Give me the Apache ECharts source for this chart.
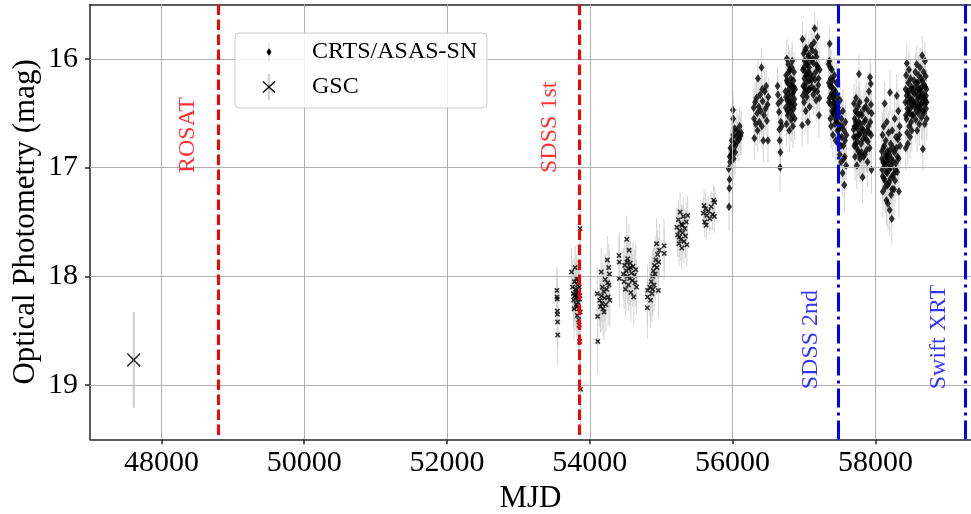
<!DOCTYPE html>
<html>
<head>
<meta charset="utf-8">
<script src="https://cdn.jsdelivr.net/npm/echarts@6/dist/echarts.min.js"></script>
<style>
html,body{margin:0;padding:0;background:#fff;}
#chart{width:971px;height:514px;}
</style>
</head>
<body>
<div id="chart"></div>
<script>
// ---------------- DATA ----------------
// [MJD, mag, err]
const crtsS1 = [[53540,18.13,0.22],[53541,18.19,0.24],[53543,18.21,0.20],[53545,18.32,0.26],[53547,18.35,0.22],[53549,18.42,0.25],[53551,18.54,0.28]];
const crtsS2 = [[53745,17.96,0.22],[53760,18.10,0.25],[53770,18.16,0.24],[53775,18.22,0.26],[53780,18.30,0.28],[53785,18.05,0.22],[53790,18.18,0.24],[53795,17.92,0.20],[53800,18.12,0.25],[53805,18.20,0.26],[53810,18.26,0.24],[53812,18.17,0.22],[53815,18.02,0.22],[53820,18.15,0.25],[53822,18.28,0.26],[53825,18.36,0.28],[53828,18.08,0.22],[53832,18.19,0.24],[53836,18.24,0.25],[53838,18.05,0.22],[53840,18.14,0.24],[53845,18.40,0.26],[53848,18.30,0.25],[53850,18.45,0.28],[53852,18.10,0.22],[53855,18.21,0.24],[53858,18.60,0.30],[53860,18.18,0.24],[53863,17.56,0.20],[53866,18.33,0.26],[53870,19.04,0.32]];
const crtsS3 = [[54105,18.16,0.24],[54110,18.37,0.26],[54112,18.60,0.30],[54140,18.22,0.25],[54150,18.28,0.24],[54160,17.96,0.22],[54165,18.18,0.24],[54170,18.25,0.26],[54175,18.10,0.22],[54185,18.30,0.25],[54195,18.14,0.24],[54200,18.33,0.26],[54205,18.20,0.22],[54215,18.03,0.24],[54225,18.26,0.25],[54235,18.12,0.22],[54245,17.85,0.22],[54250,18.06,0.24],[54258,18.19,0.26],[54265,17.92,0.22],[54270,18.08,0.24],[54275,17.98,0.22],[54280,18.22,0.25]];
const crtsS4 = [[54410,17.81,0.22],[54412,17.87,0.24],[54414,18.02,0.26],[54470,17.98,0.24],[54480,18.05,0.25],[54490,17.90,0.22],[54500,18.12,0.26],[54510,17.95,0.24],[54517,17.66,0.22],[54520,17.87,0.24],[54525,18.00,0.25],[54530,17.84,0.22],[54540,18.08,0.24],[54545,17.93,0.22],[54550,17.76,0.24],[54560,18.02,0.25],[54565,17.88,0.22],[54570,17.92,0.24],[54575,18.15,0.26],[54585,17.97,0.22],[54595,18.04,0.24],[54605,17.91,0.22],[54615,18.19,0.26],[54625,17.99,0.24],[54635,18.06,0.22],[54645,17.94,0.24],[54655,18.10,0.25]];
const crtsS5 = [[54805,18.29,0.28],[54808,18.19,0.26],[54810,18.13,0.24],[54840,18.10,0.26],[54850,18.22,0.25],[54860,18.05,0.24],[54870,18.16,0.26],[54880,18.00,0.24],[54882,18.12,0.25],[54890,17.95,0.22],[54900,18.08,0.24],[54905,17.90,0.22],[54915,17.98,0.24],[54925,17.85,0.22],[54935,17.70,0.24],[54940,17.92,0.25],[54950,17.80,0.22],[54960,18.13,0.26],[54965,17.87,0.22],[54975,17.76,0.24],[55040,17.72,0.25],[55042,17.79,0.24]];
const crtsS6 = [[55220,17.55,0.18],[55230,17.62,0.20],[55240,17.48,0.18],[55250,17.70,0.20],[55255,17.64,0.18],[55260,17.58,0.20],[55265,17.41,0.18],[55275,17.66,0.20],[55285,17.52,0.18],[55290,17.74,0.20],[55295,17.53,0.18],[55300,17.60,0.20],[55310,17.45,0.18],[55320,17.68,0.20],[55330,17.56,0.18],[55340,17.63,0.20],[55350,17.50,0.18],[55360,17.71,0.20],[55370,17.44,0.18]];
const crtsS7 = [[55590,17.42,0.14],[55600,17.35,0.15],[55610,17.50,0.14],[55620,17.38,0.15],[55630,17.53,0.14],[55640,17.44,0.15],[55660,17.40,0.14],[55680,17.47,0.15],[55700,17.36,0.14],[55720,17.43,0.15],[55735,17.30,0.14],[55745,17.45,0.15],[55750,17.32,0.14]];

const asasA1 = [[55945,17.01,0.20],[55950,17.36,0.22],[55955,17.19,0.20],[55958,17.11,0.20],[55960,16.90,0.18],[55965,16.95,0.20],[55970,16.82,0.18],[55980,16.88,0.20],[55990,16.75,0.18],[56000,16.85,0.20],[56005,16.47,0.18],[56008,16.55,0.18],[56012,16.70,0.20],[56015,16.92,0.20],[56020,16.78,0.18],[56030,16.64,0.18],[56035,16.86,0.20],[56040,16.80,0.18],[56050,16.72,0.18],[56060,16.66,0.20],[56070,16.76,0.18],[56080,16.69,0.18],[56090,16.74,0.20],[56100,16.62,0.18],[56110,16.71,0.18],[56120,16.68,0.20]];
const asasA2 = [[56295,16.45,0.18],[56300,16.55,0.20],[56305,16.73,0.20],[56315,16.40,0.18],[56325,16.60,0.20],[56335,16.36,0.18],[56345,16.50,0.20],[56350,16.66,0.20],[56355,16.18,0.18],[56365,16.44,0.18],[56375,16.58,0.20],[56385,16.33,0.18],[56395,16.48,0.20],[56405,16.08,0.18],[56410,16.62,0.20],[56415,16.28,0.18],[56420,16.39,0.18],[56430,16.75,0.20],[56440,16.52,0.18],[56450,16.30,0.18],[56460,16.46,0.20],[56470,16.25,0.18],[56480,16.57,0.20],[56490,16.42,0.18],[56495,16.75,0.20],[56500,16.35,0.18]];
const asasA3 = [[56630,16.25,0.18],[56635,16.33,0.18],[56640,16.41,0.20],[56650,16.49,0.18],[56655,16.65,0.20],[56660,16.75,0.20],[56665,17.00,0.22],[56670,16.86,0.20],[56675,16.58,0.18],[56680,16.38,0.18],[56690,16.62,0.20]];
const asasA4 = [[56740,16.30,0.18],[56745,16.45,0.20],[56748,16.35,0.18],[56750,16.15,0.18],[56755,16.60,0.20],[56758,16.20,0.18],[56760,16.00,0.18],[56765,16.38,0.18],[56768,16.48,0.20],[56770,16.22,0.20],[56775,16.52,0.18],[56778,16.32,0.18],[56780,16.05,0.18],[56785,16.42,0.20],[56788,16.12,0.18],[56790,16.28,0.18],[56795,16.66,0.20],[56798,16.40,0.20],[56800,16.10,0.18],[56805,16.35,0.18],[56808,16.24,0.18],[56810,16.48,0.20],[56815,16.18,0.18],[56818,16.44,0.20],[56820,16.56,0.20],[56825,16.25,0.18],[56828,16.08,0.18],[56830,16.40,0.18],[56835,16.02,0.18],[56838,16.52,0.20],[56840,16.32,0.20],[56845,16.62,0.20],[56848,16.30,0.18],[56850,16.20,0.18],[56855,16.46,0.18],[56858,16.26,0.18],[56860,16.12,0.18],[56865,16.37,0.20],[56868,16.42,0.20],[56870,16.55,0.20],[56875,16.28,0.18]];
const asasA5 = [[56975,16.61,0.20],[56980,15.82,0.16],[56983,16.34,0.18],[56985,16.10,0.18],[56990,16.25,0.18],[56995,15.95,0.16],[56998,16.08,0.18],[57000,16.40,0.20],[57005,16.18,0.18],[57008,16.26,0.18],[57010,16.02,0.16],[57015,16.30,0.18],[57018,15.92,0.16],[57020,16.12,0.18],[57025,16.48,0.20],[57028,16.15,0.18],[57030,15.90,0.16],[57035,16.22,0.18],[57038,16.05,0.18],[57040,16.35,0.18],[57045,16.05,0.16],[57048,16.30,0.18],[57050,16.16,0.18],[57055,16.58,0.20],[57058,16.12,0.18],[57060,15.98,0.16],[57065,16.28,0.18],[57068,15.96,0.16],[57070,16.08,0.18],[57075,16.20,0.18],[57078,16.28,0.18],[57080,16.44,0.20],[57090,16.14,0.18],[57095,16.02,0.18],[57100,15.88,0.16],[57105,16.20,0.18],[57110,16.26,0.18],[57115,15.92,0.16],[57120,16.00,0.16],[57125,16.16,0.18],[57130,16.33,0.18],[57135,16.04,0.18],[57140,15.85,0.16],[57145,16.28,0.18],[57150,15.72,0.15],[57155,16.19,0.18],[57160,15.94,0.16],[57165,16.12,0.18],[57170,16.38,0.20],[57175,15.98,0.16],[57180,16.06,0.18],[57185,16.30,0.18],[57190,15.80,0.16],[57195,16.08,0.18],[57200,16.24,0.18],[57205,16.18,0.18],[57210,16.52,0.20],[57215,16.36,0.20],[57220,16.10,0.18]];
const asasA6 = [[57345,16.05,0.18],[57348,16.22,0.18],[57350,16.40,0.20],[57355,16.02,0.18],[57358,16.36,0.18],[57360,15.86,0.16],[57365,16.25,0.18],[57368,16.08,0.18],[57370,16.55,0.20],[57375,16.18,0.18],[57378,16.42,0.20],[57380,16.62,0.20],[57385,16.32,0.18],[57388,16.26,0.18],[57390,16.10,0.18],[57395,16.48,0.20],[57398,16.34,0.18],[57400,16.20,0.18],[57405,16.70,0.20],[57408,16.50,0.20],[57410,16.36,0.18],[57415,16.28,0.18],[57418,16.40,0.18],[57420,16.52,0.20],[57425,16.15,0.18],[57428,16.32,0.18],[57430,16.44,0.18],[57435,16.60,0.20],[57438,16.46,0.18],[57440,16.30,0.18],[57445,16.75,0.20],[57448,16.56,0.20],[57450,16.40,0.18],[57455,16.22,0.18],[57458,16.48,0.20],[57460,16.58,0.20],[57465,16.35,0.18],[57468,16.52,0.20],[57470,16.66,0.20],[57475,16.45,0.18],[57478,16.60,0.20],[57480,16.78,0.20],[57485,16.65,0.20],[57490,16.50,0.18],[57495,16.72,0.20],[57500,16.88,0.22],[57505,16.38,0.18],[57510,16.62,0.20],[57515,16.80,0.20],[57520,16.95,0.22],[57525,16.55,0.20],[57530,16.72,0.20],[57535,16.62,0.20],[57540,17.05,0.22],[57545,16.48,0.20],[57550,16.80,0.20],[57555,16.92,0.22],[57560,16.66,0.20],[57565,17.16,0.24],[57570,16.90,0.22],[57575,16.75,0.20],[57580,16.58,0.20],[57590,16.98,0.22],[57595,16.70,0.20]];
const asasA7 = [[57695,16.65,0.20],[57698,16.72,0.20],[57700,16.41,0.18],[57705,16.80,0.20],[57708,16.62,0.20],[57710,16.55,0.20],[57715,16.90,0.22],[57718,16.78,0.20],[57720,16.48,0.18],[57725,16.72,0.20],[57728,16.58,0.20],[57730,16.36,0.18],[57735,16.62,0.20],[57738,16.82,0.20],[57740,16.98,0.22],[57745,16.50,0.18],[57748,16.64,0.20],[57750,16.76,0.20],[57755,16.44,0.18],[57758,16.70,0.20],[57760,16.85,0.22],[57765,16.58,0.20],[57768,16.52,0.20],[57770,16.14,0.18],[57775,16.70,0.20],[57778,16.88,0.22],[57780,16.40,0.18],[57785,16.92,0.22],[57788,16.68,0.20],[57790,16.60,0.20],[57795,16.50,0.20],[57800,16.78,0.20],[57805,16.86,0.22],[57810,16.52,0.18],[57815,16.64,0.20],[57820,17.09,0.24],[57825,16.74,0.20],[57830,16.66,0.20],[57835,16.90,0.22],[57840,16.46,0.18],[57845,16.58,0.20],[57850,16.88,0.22],[57855,16.70,0.20],[57860,16.56,0.20],[57865,16.44,0.20],[57870,16.74,0.20],[57875,16.84,0.22],[57880,16.38,0.18],[57885,16.66,0.20],[57890,16.95,0.22],[57895,16.76,0.20],[57900,16.62,0.20],[57905,16.48,0.20],[57910,16.30,0.18],[57915,16.68,0.20],[57920,16.82,0.20],[57925,16.17,0.18],[57930,16.58,0.20],[57935,16.23,0.18],[57938,16.42,0.20],[57940,16.70,0.20],[57945,17.02,0.22],[57948,16.50,0.20]];
const asasA8 = [[58090,16.85,0.22],[58093,16.92,0.22],[58095,17.02,0.22],[58100,16.70,0.20],[58103,17.08,0.22],[58105,17.22,0.24],[58110,16.95,0.22],[58113,16.82,0.20],[58115,16.62,0.20],[58120,17.10,0.22],[58123,16.96,0.22],[58125,16.80,0.20],[58130,16.41,0.20],[58133,17.12,0.22],[58135,16.98,0.22],[58140,17.18,0.24],[58143,16.88,0.22],[58145,16.75,0.20],[58150,16.90,0.22],[58153,17.04,0.22],[58155,17.30,0.24],[58160,16.58,0.20],[58163,16.94,0.22],[58165,17.05,0.22],[58170,16.85,0.22],[58173,17.16,0.22],[58175,17.33,0.24],[58180,16.96,0.22],[58183,16.90,0.22],[58185,16.68,0.20],[58190,17.14,0.22],[58193,17.02,0.22],[58195,16.88,0.22],[58200,17.39,0.24],[58203,16.84,0.22],[58205,16.31,0.20],[58210,17.00,0.22],[58213,17.10,0.22],[58215,16.78,0.20],[58220,17.25,0.24],[58223,16.98,0.22],[58225,16.92,0.22],[58230,17.47,0.24],[58233,17.20,0.24],[58235,16.66,0.20],[58240,17.08,0.22],[58245,16.94,0.22],[58250,16.82,0.20],[58255,17.06,0.22],[58260,17.20,0.24],[58265,16.86,0.22],[58270,16.55,0.20],[58275,17.12,0.22],[58280,17.02,0.22],[58285,16.96,0.22],[58290,16.72,0.20],[58295,16.82,0.22],[58300,16.34,0.20],[58305,17.04,0.22],[58310,16.90,0.22],[58315,16.74,0.20],[58320,16.48,0.20],[58325,16.92,0.22],[58330,17.22,0.24],[58335,16.70,0.20],[58340,16.62,0.20],[58345,16.80,0.22]];
const asasA9 = [[58420,16.40,0.18],[58422,16.28,0.18],[58425,16.82,0.20],[58428,16.52,0.18],[58430,16.15,0.18],[58435,16.55,0.20],[58438,16.34,0.18],[58440,16.04,0.18],[58445,16.68,0.20],[58448,16.46,0.18],[58450,16.30,0.18],[58455,16.78,0.20],[58458,16.40,0.18],[58460,16.22,0.18],[58465,16.48,0.18],[58468,16.30,0.18],[58470,16.10,0.18],[58475,16.62,0.20],[58478,16.50,0.18],[58480,16.35,0.18],[58485,16.72,0.20],[58488,16.38,0.18],[58490,16.18,0.18],[58495,16.45,0.18],[58498,16.28,0.18],[58500,16.58,0.20],[58505,16.26,0.18],[58508,16.42,0.18],[58510,16.66,0.20],[58515,16.52,0.18],[58520,16.38,0.18],[58525,16.30,0.18],[58530,16.52,0.18],[58535,16.40,0.18],[58540,16.20,0.18],[58545,16.32,0.18],[58550,16.44,0.18],[58555,16.26,0.18],[58560,16.12,0.18],[58565,16.56,0.20],[58568,16.40,0.18],[58570,16.30,0.18],[58575,16.48,0.18],[58578,16.22,0.18],[58580,16.05,0.18],[58585,16.66,0.20],[58588,16.44,0.18],[58590,16.34,0.18],[58595,16.22,0.18],[58598,16.36,0.18],[58600,16.50,0.18],[58605,16.15,0.18],[58608,16.28,0.18],[58610,16.42,0.18],[58615,16.60,0.20],[58618,16.46,0.18],[58620,16.28,0.18],[58625,16.08,0.18],[58628,16.30,0.18],[58630,16.46,0.18],[58635,16.36,0.18],[58638,16.42,0.18],[58640,16.18,0.18],[58645,16.54,0.20],[58648,16.34,0.18],[58650,16.26,0.18],[58655,15.97,0.18],[58658,16.20,0.18],[58660,16.40,0.18],[58665,16.83,0.20],[58668,16.48,0.18],[58670,16.32,0.18],[58675,16.12,0.18],[58678,16.36,0.18],[58680,16.50,0.18],[58685,16.24,0.18],[58688,16.42,0.18],[58690,16.60,0.20],[58695,16.02,0.18],[58698,16.26,0.18],[58700,16.38,0.18],[58705,16.16,0.18],[58708,16.34,0.18],[58710,16.46,0.18],[58715,16.28,0.18],[58718,16.40,0.18],[58720,16.55,0.20]];

const gsc = [[47613,18.77,0.44]];

// reference epochs (vertical lines)
const refNames = ['ROSAT','SDSS 1st','SDSS 2nd','Swift XRT'];
const refMJD   = [48800, 53846, 57486, 59263];
// annotation anchors [MJD, mag] (start of the rotated text)
const annotMJD = [48375, 53440, 57090, 58885];
const annotMag = [17.05, 17.05, 19.04, 19.04];

const xTicks = [48000, 50000, 52000, 54000, 56000, 58000];
const yTicks = [16, 17, 18, 19];

// ---------------- CHART ----------------
const crts = [].concat(crtsS1, crtsS2, crtsS3, crtsS4, crtsS5, crtsS6, crtsS7);
const asas = [].concat(asasA1, asasA2, asasA3, asasA4, asasA5, asasA6, asasA7, asasA8, asasA9);
const allErr = [].concat(crts, asas);

const FONT = 'Liberation Serif';
const SPINE = '#262626';
const X_MIN = 47000, X_MAX = 59339;
const X_PATH_THIN = 'path://M0,0.8 L0.8,0 L5,4.2 L9.2,0 L10,0.8 L5.8,5 L10,9.2 L9.2,10 L5,5.8 L0.8,10 L0,9.2 L4.2,5 Z';
const X_PATH_BOLD = 'path://M0,2 L2,0 L5,3 L8,0 L10,2 L7,5 L10,8 L8,10 L5,7 L2,10 L0,8 L3,5 Z';

const refColors = ['#ff0000','#ff0000','#0000ff','#0000ff'];
const refDash = [[10.5,4.5],[10.5,4.5],[19,5,3,5],[19,5,3,5]];

function errRenderer(width) {
  return function(params, api) {
    const x = api.value(0), y = api.value(1), e = api.value(2);
    const p1 = api.coord([x, y - e]);
    const p2 = api.coord([x, y + e]);
    return {
      type: 'line',
      shape: {x1: p1[0], y1: p1[1], x2: p2[0], y2: p2[1]},
      style: {stroke: '#d3d3d3', lineWidth: width}
    };
  };
}

// legend X icon (pixel layout of the legend box)
const lx = 269, ly = 87, hw = 6.5, hh = 6, t = 0.9;
const legendX = [[lx-hw,ly-hh+t],[lx-hw+t,ly-hh],[lx,ly-t],[lx+hw-t,ly-hh],[lx+hw,ly-hh+t],[lx+t,ly],[lx+hw,ly+hh-t],[lx+hw-t,ly+hh],[lx,ly+t],[lx-hw+t,ly+hh],[lx-hw,ly+hh-t],[lx-t,ly]];

const chart = echarts.init(document.getElementById('chart'), null, {renderer: 'canvas'});
const option = {
  animation: false,
  backgroundColor: '#ffffff',
  grid: {left: 90, top: 4.5, right: 0, bottom: 74.7, show: false, containLabel: false, outerBoundsMode: 'none'},
  xAxis: [{
    type: 'value', min: X_MIN, max: X_MAX,
    axisLine: {show: true, onZero: false, lineStyle: {color: SPINE, width: 1.5}},
    axisTick: {show: true, customValues: xTicks, length: 5, inside: false, lineStyle: {color: SPINE, width: 1.5}},
    axisLabel: {customValues: xTicks, formatter: v => String(v), fontSize: 30, fontFamily: FONT, color: '#000', margin: 9},
    splitLine: {show: false},
    name: 'MJD', nameLocation: 'middle', nameGap: 44, nameMoveOverlap: false,
    nameTextStyle: {fontSize: 31, fontFamily: FONT, color: '#000'}
  }, {
    type: 'value', min: X_MIN, max: X_MAX, position: 'top',
    axisLine: {show: true, onZero: false, lineStyle: {color: SPINE, width: 1.5}},
    axisTick: {show: false}, axisLabel: {show: false}, splitLine: {show: false}
  }],
  yAxis: {
    type: 'value', min: 15.5, max: 19.5, inverse: true,
    axisLine: {show: true, onZero: false, lineStyle: {color: SPINE, width: 1.5}},
    axisTick: {show: true, customValues: yTicks, length: 5, inside: false, lineStyle: {color: SPINE, width: 1.5}},
    axisLabel: {customValues: yTicks, fontSize: 30, fontFamily: FONT, color: '#000', margin: 12},
    splitLine: {show: false},
    name: 'Optical Photometry (mag)', nameLocation: 'middle', nameGap: 49, nameMoveOverlap: false,
    nameTextStyle: {fontSize: 31, fontFamily: FONT, color: '#000'}
  },
  series: [
    {
      name: 'gridlines', type: 'scatter', data: [], silent: true, z: 1,
      markLine: {
        silent: true, symbol: ['none','none'], label: {show: false}, animation: false,
        lineStyle: {color: '#b0b0b0', width: 1, type: 'solid'},
        emphasis: {disabled: true},
        data: xTicks.map(v => ({xAxis: v})).concat(yTicks.map(v => ({yAxis: v})))
      }
    },
    {
      name: 'errors', type: 'custom', renderItem: errRenderer(1), z: 2, silent: true,
      encode: {x: 0, y: 1}, data: allErr
    },
    {
      name: 'gscErr', type: 'custom', renderItem: errRenderer(2.5), z: 2, silent: true,
      encode: {x: 0, y: 1}, data: gsc
    },
    {
      name: 'CRTS', type: 'scatter', z: 3, silent: true,
      symbol: X_PATH_BOLD, symbolSize: 5.5,
      itemStyle: {color: '#000'},
      data: crts.map(d => [d[0], d[1]])
    },
    {
      name: 'ASAS-SN', type: 'scatter', z: 3, silent: true,
      symbol: 'diamond', symbolSize: [6, 8.5],
      itemStyle: {color: '#000'},
      data: asas.map(d => [d[0], d[1]])
    },
    {
      name: 'GSC', type: 'scatter', z: 3, silent: true,
      symbol: X_PATH_THIN, symbolSize: 14,
      itemStyle: {color: '#000'},
      data: gsc.map(d => [d[0], d[1]])
    },
    {
      name: 'refs', type: 'scatter', data: [], silent: true, z: 4,
      markLine: {
        silent: true, symbol: ['none','none'], label: {show: false}, animation: false,
        emphasis: {disabled: true},
        data: refMJD.map((v, i) => ({xAxis: v, lineStyle: {color: refColors[i], width: 3, type: refDash[i]}}))
      }
    },
    {
      name: 'annotations', type: 'scatter', z: 5, silent: true,
      symbolSize: 0,
      data: annotMJD.map((v, i) => ({
        value: [v, annotMag[i]],
        label: {show: true, formatter: refNames[i], rotate: 90, position: 'inside', align: 'left', verticalAlign: 'middle',
                fontSize: 24, fontFamily: FONT, color: refColors[i]}
      }))
    }
  ],
  graphic: [
    {type: 'rect', x: 235, y: 33, z: 100, shape: {x: 0, y: 0, width: 252, height: 75, r: 4},
     style: {fill: 'rgba(255,255,255,0.85)', stroke: '#cccccc', lineWidth: 1}},
    {type: 'line', z: 101, shape: {x1: 269, y1: 43, x2: 269, y2: 62}, style: {stroke: '#d3d3d3', lineWidth: 1}},
    {type: 'polygon', z: 102, shape: {points: [[269,48.2],[271.5,52],[269,55.8],[266.5,52]]}, style: {fill: '#000'}},
    {type: 'line', z: 101, shape: {x1: 269, y1: 74, x2: 269, y2: 100}, style: {stroke: '#d3d3d3', lineWidth: 2.5}},
    {type: 'polygon', z: 102, shape: {points: legendX}, style: {fill: '#000'}},
    {type: 'text', z: 102, x: 312, y: 52, style: {text: 'CRTS/ASAS-SN', font: '24px "Liberation Serif"', fill: '#000', align: 'left', verticalAlign: 'middle'}},
    {type: 'text', z: 102, x: 312, y: 87, style: {text: 'GSC', font: '24px "Liberation Serif"', fill: '#000', align: 'left', verticalAlign: 'middle'}}
  ]
};
chart.setOption(option);
</script>
</body>
</html>
